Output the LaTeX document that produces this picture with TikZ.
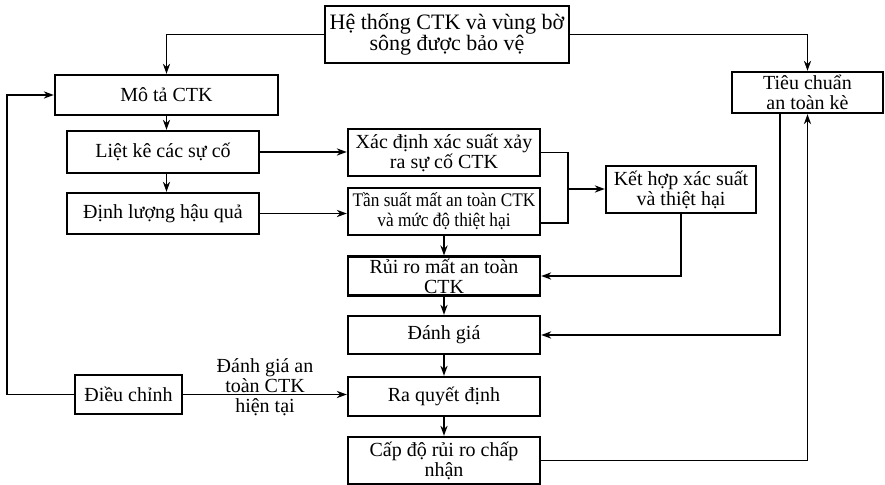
\documentclass[tikz,border=0pt]{standalone}
\usepackage{fontspec}
\setmainfont{Liberation Serif}
\usepackage{tikz}
\usetikzlibrary{arrows.meta, calc}
\tikzstyle{block} = [rectangle, draw=black, line width=1.2pt, align=center, inner sep=1pt, font=\fontsize{10}{10}\selectfont]
\tikzstyle{link} = [line width=0.9pt]
\tikzstyle{tag} = [align=center, inner sep=0pt, font=\fontsize{10}{10}\selectfont]

\begin{document}
\begin{tikzpicture}[x=0.5pt, y=-0.5pt, >={Stealth[length=5pt,width=3.6pt]}]
        \useasboundingbox (0,0) rectangle (885,485);
        % boxes
        \node[block, minimum width=122pt, minimum height=28.5pt, font=\fontsize{11}{10.5}\selectfont] (system) at (447,34.5) {Hệ thống CTK và vùng bờ\\sông được bảo vệ};
        \node[block, minimum width=111.5pt, minimum height=20pt] (describe) at (166.5,95) {Mô tả CTK};
        \node[block, minimum width=75.5pt, minimum height=20.5pt] (standard) at (807.5,92.5) {Tiêu chuẩn\\an toàn kè};
        \node[block, minimum width=96pt, minimum height=21pt] (listing) at (163,152) {Liệt kê các sự cố};
        \node[block, minimum width=96pt, minimum height=20.5pt] (consequence) at (163,213.5) {Định lượng hậu quả};
        \node[block, minimum width=96pt, minimum height=23.5pt] (probability) at (444,152.5) {Xác định xác suất xảy\\ra sự cố CTK};
        \node[block, minimum width=96pt, minimum height=23.5pt, font=\fontsize{9.6}{10}\selectfont\addfontfeatures{FakeStretch=0.9}] (frequency) at (444,211.5) {Tần suất mất an toàn CTK\\và mức độ thiệt hại};
        \node[block, minimum width=75pt, minimum height=23.5pt] (combine) at (681,189.5) {Kết hợp xác suất\\và thiệt hại};
        \node[block, minimum width=96pt, minimum height=19pt] (risk) at (444,276) {Rủi ro mất an toàn\\CTK};
        \node[block, minimum width=96pt, minimum height=19pt] (evaluate) at (444,335) {Đánh giá};
        \node[block, minimum width=96pt, minimum height=19.5pt] (decide) at (444,396.5) {Ra quyết định};
        \node[block, minimum width=96pt, minimum height=23.5pt] (accept) at (444,460.5) {Cấp độ rủi ro chấp\\nhận};
        \node[block, minimum width=53.5pt, minimum height=19.5pt] (adjust) at (128.5,394.5) {Điều chỉnh};
        \coordinate (merge) at (568,189);

        % connectors
        \draw[link, ->] (system.west) -| (describe.north);
        \draw[link, ->] (system.east) -| (standard.north);
        \draw[link, ->] (describe.south) -- (describe.south |- listing.north);
        \draw[link, ->] (listing.south -| describe.south) -- (describe.south |- consequence.north);
        \draw[link, ->] (listing.east) -- (listing.east -| probability.west);
        \draw[link, ->] (consequence.east) -- (consequence.east -| frequency.west);
        \draw[link] (probability.east) -| (merge);
        \draw[link] ([yshift=-5.75pt]frequency.east) -| (merge);
        \draw[link, ->] (merge) -- (merge -| combine.west);
        \draw[link, ->] (combine.south) |- (risk.east);
        \draw[link, ->] (frequency) -- (risk);
        \draw[link, ->] (risk) -- (evaluate);
        \draw[link, ->] (evaluate) -- (decide);
        \draw[link, ->] (decide) -- (accept);
        \draw[link, ->] ([xshift=-13.75pt]standard.south) |- (evaluate.east);
        \draw[link, ->] (accept.east) -| (standard.south);
        \draw[link, ->] (adjust.east) -- node[tag, yshift=3.5pt] {Đánh giá an\\toàn CTK\\hiện tại} (adjust.east -| decide.west);
        \draw[link, ->] (adjust.west) -- ++(-67,0) |- (describe.west);
    \end{tikzpicture}
\end{document}
